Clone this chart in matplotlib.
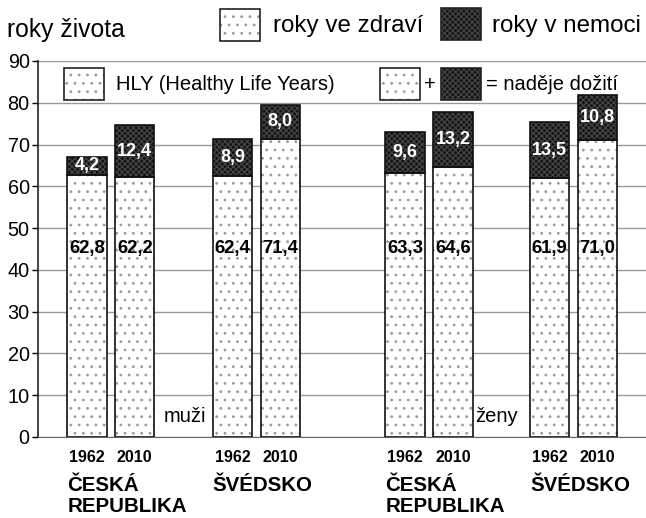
import matplotlib
matplotlib.use("Agg")
import matplotlib.pyplot as plt
from matplotlib.patches import Rectangle

plt.rcParams['font.family'] = ['Liberation Sans', 'DejaVu Sans']
plt.rcParams['hatch.linewidth'] = 0.8

years = ["1962", "2010", "1962", "2010", "1962", "2010", "1962", "2010"]
countries = ["ČESKÁ\nREPUBLIKA", "ŠVÉDSKO", "ČESKÁ\nREPUBLIKA", "ŠVÉDSKO"]
healthy = [62.8, 62.2, 62.4, 71.4, 63.3, 64.6, 61.9, 71.0]
sick = [4.2, 12.4, 8.9, 8.0, 9.6, 13.2, 13.5, 10.8]
positions = [0, 1, 3.04, 4.04, 6.64, 7.64, 9.66, 10.66]
yticks = [0, 10, 20, 30, 40, 50, 60, 70, 80, 90]

W, H = 646, 518
fig = plt.figure(figsize=(W / 100, H / 100), dpi=100)
ax = fig.add_axes([38 / W, 1 - 437 / H, (W - 38) / W, (437 - 61) / H])

bw = 0.82
LIGHT_HATCH = '#9a9a9a'
DARK_FACE = '#141414'
DARK_HATCH = '#484848'

def hatched_bar(x, bottom, height, light):
    if light:
        ax.bar(x, height, bw, bottom=bottom, color='white', hatch='..',
               edgecolor=LIGHT_HATCH, linewidth=0, zorder=2)
    else:
        ax.bar(x, height, bw, bottom=bottom, color=DARK_FACE, hatch='xxxxxx',
               edgecolor=DARK_HATCH, linewidth=0, zorder=2)
    ax.bar(x, height, bw, bottom=bottom, fill=False, edgecolor='#111111',
           linewidth=1.2, zorder=3)

for x, h, s in zip(positions, healthy, sick):
    hatched_bar(x, 0, h, True)
    hatched_bar(x, h, s, False)
    ax.text(x, 45.2, f"{h:.1f}".replace('.', ','), ha='center', va='center',
            fontsize=13.3, fontweight='bold', color='black', zorder=5)
    ax.text(x, h + s / 2, f"{s:.1f}".replace('.', ','), ha='center', va='center',
            fontsize=13, fontweight='bold', color='white', zorder=5)

ax.set_ylim(0, 90)
ax.set_xlim(-1.02, 11.67)
ax.set_yticks(yticks)
ax.tick_params(axis='y', labelsize=14.3, length=4, width=1, pad=2)
ax.tick_params(axis='x', length=0)
ax.set_xticks(positions)
ax.set_xticklabels([])
for yt in yticks:
    ax.axhline(yt, color='#9a9a9a', lw=1.0, zorder=1)
for sp in ['top', 'right']:
    ax.spines[sp].set_visible(False)
ax.spines['left'].set_color('#222222')
ax.spines['left'].set_linewidth(1.2)
ax.spines['bottom'].set_color('#666666')

# years and countries (below)
for x, yr in zip(positions, years):
    ax.text(x, -5.0, yr, ha='center', va='center', fontsize=11.5,
            fontweight='bold')
group_left = [positions[0] - bw / 2, positions[2] - bw / 2,
              positions[4] - bw / 2, positions[6] - bw / 2]
for gx, c in zip(group_left, countries):
    ax.text(gx, -9.3, c, ha='left', va='top', fontsize=14.8, fontweight='bold',
            linespacing=1.17)

ax.text(1.6, 5, "muži", ha='left', va='center', fontsize=14.5)
ax.text(8.1, 5, "ženy", ha='left', va='center', fontsize=14.5)

# legends (figure-pixel placed)
def fig_patch(x0, y0, w, h, light):
    xf, yf = x0 / W, 1 - (y0 + h) / H
    if light:
        p = Rectangle((xf, yf), w / W, h / H, transform=fig.transFigure,
                      facecolor='white', hatch='..', edgecolor=LIGHT_HATCH,
                      linewidth=0, zorder=6)
    else:
        p = Rectangle((xf, yf), w / W, h / H, transform=fig.transFigure,
                      facecolor=DARK_FACE, hatch='xxxxxx', edgecolor=DARK_HATCH,
                      linewidth=0, zorder=6)
    fig.patches.append(p)
    fig.patches.append(Rectangle((xf, yf), w / W, h / H, transform=fig.transFigure,
                                 fill=False, edgecolor='#222222', linewidth=1.2,
                                 zorder=7))

def fig_text(x, y, s, **kw):
    fig.text(x / W, 1 - y / H, s, **kw)

fig_text(7, 30, "roky života", ha='left', va='center', fontsize=17.8)
fig_patch(220, 9, 40, 32, True)
fig_text(273, 26, "roky ve zdraví", ha='left', va='center', fontsize=17.4)
fig_patch(441, 8, 40, 32, False)
fig_text(492, 26, "roky v nemoci", ha='left', va='center', fontsize=17.4)

fig_patch(64, 68, 40, 32, True)
fig_text(116, 85, "HLY (Healthy Life Years)", ha='left', va='center', fontsize=14.5)
fig_patch(380, 68, 40, 32, True)
fig_text(424, 85, "+", ha='left', va='center', fontsize=14.5)
fig_patch(441, 68, 40, 32, False)
fig_text(486, 85, "= naděje dožití", ha='left', va='center', fontsize=14.5)

fig.savefig("out.png", dpi=100)
